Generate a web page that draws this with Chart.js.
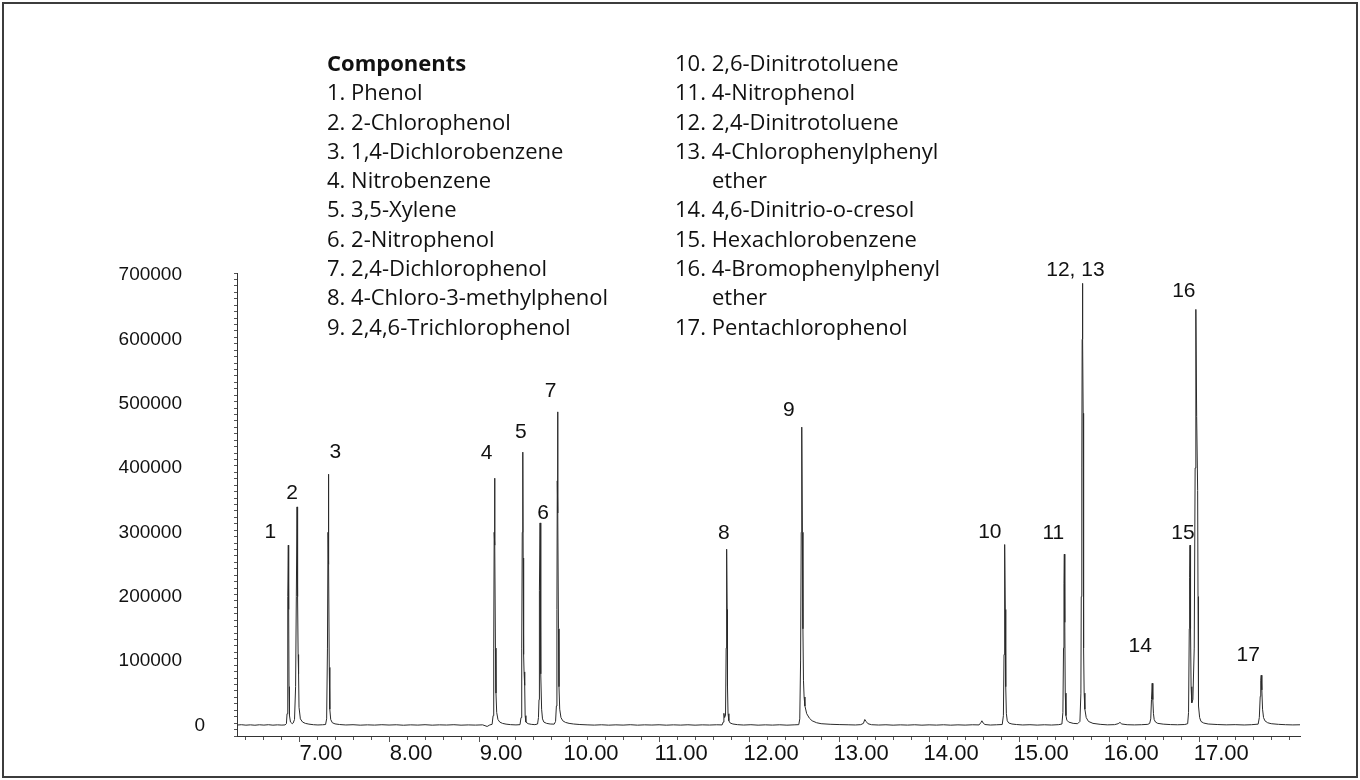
<!DOCTYPE html>
<html>
<head>
<meta charset="utf-8">
<title>GC chromatogram – phenols and semivolatiles</title>
<script src="https://cdn.jsdelivr.net/npm/chart.js@4.4.1/dist/chart.umd.min.js"></script>
<style>
  html, body { margin: 0; padding: 0; background: #fff; overflow: hidden; }
  #frame { position: absolute; left: 2px; top: 2px; width: 1356px; height: 776px;
           box-sizing: border-box; border: 2px solid #3c3c3c; }
  #chart { position: absolute; left: 0; top: 0; }
  .legend { position: absolute; font-family: 'Open Sans', 'Noto Sans', sans-serif;
            font-size: 22px; line-height: 29.3px; color: #111; white-space: nowrap; }
  .legend .head { font-weight: 700; }
  .legend .cont { padding-left: 37px; }
</style>
</head>
<body>
<div id="frame"></div>
<canvas id="chart" width="1360" height="780"></canvas>
<div class="legend" id="legendLeft" style="left:327px; top:48px;"></div>
<div class="legend" id="legendRight" style="left:675px; top:48px;"></div>

<script>
// ---- compound list ----
const componentsLeft = [
  '1. Phenol', '2. 2-Chlorophenol', '3. 1,4-Dichlorobenzene', '4. Nitrobenzene',
  '5. 3,5-Xylene', '6. 2-Nitrophenol', '7. 2,4-Dichlorophenol',
  '8. 4-Chloro-3-methylphenol', '9. 2,4,6-Trichlorophenol'
];
const componentsRight = [
  '10. 2,6-Dinitrotoluene', '11. 4-Nitrophenol', '12. 2,4-Dinitrotoluene',
  '13. 4-Chlorophenylphenyl|ether', '14. 4,6-Dinitrio-o-cresol', '15. Hexachlorobenzene',
  '16. 4-Bromophenylphenyl|ether', '17. Pentachlorophenol'
];

// ---- peak identification (retention time, min / apex abundance) ----
const peakIds     = ['1', '2', '3', '4', '5', '6', '7', '8', '9', '10', '11', '12, 13', '14', '15', '16', '17'];
const peakTimes   = [6.881, 6.978, 7.326, 9.172, 9.486, 9.678, 9.872, 11.752, 12.585, 14.841, 15.502, 15.703, 16.478, 16.898, 16.963, 17.689];
const peakHeights = [280000, 339500, 390300, 384100, 424600, 314600, 487200, 273700, 463500, 281000, 266000, 687000, 65300, 280000, 646500, 77800];

// ---- axis tick labels ----
const timeTickLabels = [7, 8, 9, 10, 11, 12, 13, 14, 15, 16, 17];
const abundanceTickLabels = [100000, 200000, 300000, 400000, 500000, 600000, 700000];

// ---- detector trace: [retention time (min), abundance] ----
const chromatogram = [
  [6.311, 400], [6.36, 900], [6.41, 200], [6.46, 700], [6.51, 100], [6.56, 800], [6.61, 300],
  [6.66, 900], [6.71, 200], [6.76, 700], [6.81, 300], [6.845, 600],
  [6.860, 2500], [6.867, 18000], [6.873, 87000], [6.877, 200000], [6.881, 280000], [6.885, 180000],
  [6.889, 60000], [6.894, 15000], [6.905, 5000], [6.925, 2500], [6.935, 3500],
  [6.950, 9000], [6.962, 60000], [6.970, 200000], [6.978, 339500], [6.984, 200000], [6.990, 110000],
  [6.995, 80000], [7.000, 28000], [7.015, 10000], [7.040, 5000], [7.070, 3000], [7.110, 1800],
  [7.16, 900], [7.21, 500], [7.26, 800], [7.295, 1200],
  [7.307, 10000], [7.316, 120000], [7.322, 300000], [7.326, 390300], [7.331, 250000], [7.336, 90000],
  [7.342, 25000], [7.352, 9000], [7.370, 4000], [7.400, 2200], [7.45, 1200],
  [7.52, 500], [7.60, 900], [7.68, 200], [7.76, 700], [7.84, 300], [7.92, 900], [8.00, 400],
  [8.08, 800], [8.16, 100], [8.24, 700], [8.32, 300], [8.40, 900], [8.48, 200], [8.56, 700],
  [8.64, 400], [8.72, 900], [8.80, 200], [8.88, 600], [8.96, 300], [9.04, 700], [9.09, -1800],
  [9.12, 600], [9.145, 1500],
  [9.156, 15000], [9.163, 120000], [9.168, 300000], [9.172, 384100], [9.177, 280000], [9.182, 120000],
  [9.188, 50000], [9.196, 20000], [9.210, 9000], [9.230, 5000], [9.260, 3000], [9.300, 1800],
  [9.350, 1000], [9.41, 600], [9.455, 1000],
  [9.466, 12000], [9.474, 120000], [9.480, 300000], [9.486, 424600], [9.490, 260000], [9.495, 110000],
  [9.500, 83000], [9.507, 62000], [9.512, 15000], [9.520, 5000], [9.545, 2500], [9.58, 1500],
  [9.62, 1000], [9.650, 2000],
  [9.660, 12000], [9.666, 40000], [9.668, 104000], [9.673, 210000], [9.678, 314600], [9.683, 200000],
  [9.688, 80000], [9.695, 25000], [9.705, 10000], [9.720, 5000], [9.750, 3000], [9.790, 2000],
  [9.835, 1800],
  [9.850, 6000], [9.859, 30000], [9.865, 180000], [9.869, 380000], [9.872, 487200], [9.877, 330000],
  [9.882, 150000], [9.888, 60000], [9.896, 25000], [9.910, 12000], [9.930, 7000], [9.960, 4500],
  [10.000, 3000], [10.05, 2000], [10.12, 1200], [10.20, 700],
  [10.28, 300], [10.36, 800], [10.44, 200], [10.52, 700], [10.60, 300], [10.68, 900], [10.76, 200],
  [10.84, 700], [10.92, 400], [11.00, 800], [11.08, 200], [11.16, 700], [11.24, 300], [11.32, 800],
  [11.40, 200], [11.48, 700], [11.56, 400], [11.64, 800], [11.70, 600],
  [11.712, 5000], [11.720, 18600], [11.728, 12000], [11.738, 16000], [11.745, 120000], [11.749, 220000],
  [11.752, 273700], [11.756, 180000], [11.760, 60000], [11.766, 18000], [11.775, 7000], [11.790, 3500],
  [11.820, 2000], [11.87, 1000],
  [11.94, 400], [12.02, 900], [12.10, 200], [12.18, 700], [12.26, 300], [12.34, 800], [12.42, 200],
  [12.50, 700], [12.552, 1000],
  [12.563, 10000], [12.572, 100000], [12.579, 300000], [12.585, 463500], [12.592, 300000], [12.598, 150000],
  [12.604, 70000], [12.611, 44000], [12.620, 30000], [12.640, 18000], [12.670, 11000], [12.700, 7000],
  [12.750, 4000], [12.800, 2500], [12.90, 1600], [13.00, 1100], [13.10, 800], [13.18, 500], [13.24, 1000],
  [13.270, 3000], [13.285, 9000], [13.300, 6000], [13.320, 2500], [13.36, 900],
  [13.44, 400], [13.52, 800], [13.60, 200], [13.68, 700], [13.76, 300], [13.84, 800], [13.92, 200],
  [14.00, 700], [14.08, 300], [14.16, 800], [14.24, 200], [14.32, 700], [14.40, 300], [14.48, 800],
  [14.555, 600],
  [14.574, 4000], [14.586, 7000], [14.600, 3500], [14.620, 1200],
  [14.68, 400], [14.75, 800], [14.812, 1200],
  [14.825, 15000], [14.832, 110000], [14.837, 220000], [14.841, 281000], [14.846, 180000], [14.851, 60000],
  [14.858, 18000], [14.868, 7000], [14.885, 3500], [14.920, 2000], [14.97, 1200],
  [15.04, 500], [15.12, 900], [15.20, 300], [15.28, 800], [15.36, 400], [15.44, 1000], [15.475, 2000],
  [15.486, 20000], [15.493, 120000], [15.498, 220000], [15.502, 266000], [15.507, 160000], [15.512, 50000],
  [15.520, 15000], [15.530, 8000], [15.550, 5000], [15.600, 3000], [15.650, 2500], [15.675, 6000],
  [15.686, 50000], [15.690, 200000], [15.696, 400000], [15.700, 600000], [15.703, 687000], [15.707, 600000],
  [15.711, 485000], [15.714, 380000], [15.716, 241000], [15.718, 120000], [15.722, 50000], [15.730, 25000],
  [15.745, 12000], [15.770, 6000], [15.820, 3000], [15.900, 1500],
  [15.98, 700], [16.06, 1000], [16.10, 2500], [16.12, 4500], [16.14, 2000], [16.20, 900], [16.28, 600],
  [16.36, 900], [16.43, 1500],
  [16.450, 3000], [16.462, 10000], [16.470, 40000], [16.478, 65300], [16.485, 40000], [16.492, 18000],
  [16.500, 9000], [16.515, 5000], [16.540, 3000], [16.600, 1800], [16.68, 1100], [16.76, 800],
  [16.84, 1200], [16.872, 2500],
  [16.882, 20000], [16.890, 150000], [16.894, 230000], [16.898, 280000], [16.904, 150000], [16.910, 60000],
  [16.918, 35000], [16.930, 40000], [16.945, 120000], [16.955, 400000], [16.963, 646500], [16.972, 480000],
  [16.983, 365000], [16.987, 200000], [16.990, 80000], [16.995, 30000], [17.005, 12000], [17.020, 6000],
  [17.050, 3500], [17.100, 2000], [17.20, 1200], [17.30, 700], [17.40, 1000], [17.50, 500], [17.58, 900],
  [17.655, 1800],
  [17.668, 12000], [17.678, 45000], [17.684, 70000], [17.689, 77800], [17.696, 55000], [17.704, 25000],
  [17.715, 12000], [17.730, 7000], [17.760, 4000], [17.800, 2500], [17.88, 1500], [17.96, 900],
  [18.04, 600], [18.12, 800]
];

// ---- axis ranges ----
const timeRange = [6.311, 18.12];
const abundanceRange = [-16640, 703100];

// ---- layout: peak-number label offsets from each apex, in px ----
const peakLabelOffsets = [
  [-18, -13], [-5, -14], [7, -22], [-8, -25], [-2, -20], [3, -10], [-7, -21], [-3, -16],
  [-13, -17], [-15, -12], [-11, -21], [-7, -13], [-12, -37], [-7, -12], [-12, -18], [-13, -20]
];

const AXIS_FONT = '"Liberation Sans", Arial, Helvetica, sans-serif';
const MINOR_TICK = 3;   // px
const MAJOR_TICK = 6;   // px

// ---- component legend (HTML text) ----
function buildLegend(el, items, heading) {
  let html = heading ? '<div class="head">' + heading + '</div>' : '';
  items.forEach(item => {
    const [first, rest] = item.split('|');
    html += '<div>' + first + '</div>';
    if (rest) html += '<div class="cont">' + rest + '</div>';
  });
  el.innerHTML = html;
}
buildLegend(document.getElementById('legendLeft'), componentsLeft, 'Components');
buildLegend(document.getElementById('legendRight'), componentsRight, '');

// ---- peak numbers, abundance labels and the longer major tick marks ----
const annotationPlugin = {
  id: 'peakLabels',
  afterDatasetsDraw(chart) {
    const { ctx, chartArea, scales: { x, y } } = chart;
    ctx.save();

    // longer ticks: every 50000 on the abundance axis, every minute on the time axis
    ctx.strokeStyle = '#555';
    ctx.lineWidth = 1;
    ctx.beginPath();
    y.ticks.forEach(t => {
      if (Math.round(t.value) % 50000 === 0) {
        const py = Math.round(y.getPixelForValue(t.value)) + 0.5;
        ctx.moveTo(chartArea.left - MAJOR_TICK, py);
        ctx.lineTo(chartArea.left, py);
      }
    });
    timeTickLabels.forEach(t => {
      const px = Math.round(x.getPixelForValue(t)) + 0.5;
      ctx.moveTo(px, chartArea.bottom);
      ctx.lineTo(px, chartArea.bottom + MAJOR_TICK);
    });
    ctx.stroke();

    ctx.fillStyle = '#111';
    ctx.font = '21px ' + AXIS_FONT;
    ctx.textAlign = 'center';
    ctx.textBaseline = 'middle';
    peakIds.forEach((id, i) => {
      const [dx, dy] = peakLabelOffsets[i];
      ctx.fillText(id, x.getPixelForValue(peakTimes[i]) + dx, y.getPixelForValue(peakHeights[i]) + dy);
    });

    ctx.font = '19px ' + AXIS_FONT;
    ctx.textAlign = 'right';
    abundanceTickLabels.forEach(v => ctx.fillText(String(v), 182, y.getPixelForValue(v)));
    ctx.fillText('0', 205, y.getPixelForValue(0));
    ctx.restore();
  }
};

const isLabelledTime = v => timeTickLabels.some(t => Math.abs(v - t) < 1e-6);

new Chart(document.getElementById('chart'), {
  type: 'line',
  data: {
    datasets: [{
      data: chromatogram.map(([t, a]) => ({ x: t, y: a })),
      borderColor: '#2a2a2a',
      borderWidth: 1,
      pointRadius: 0,
      tension: 0,
      fill: false
    }]
  },
  options: {
    responsive: false,
    animation: false,
    events: [],
    layout: { padding: { top: 273, right: 60, left: 0, bottom: 0 } },
    plugins: { legend: { display: false }, tooltip: { enabled: false } },
    scales: {
      x: {
        type: 'linear',
        min: timeRange[0],
        max: timeRange[1],
        border: { display: true, color: '#333', width: 1 },
        grid: { drawOnChartArea: false, drawTicks: true, tickLength: 4, tickColor: '#555' },
        ticks: {
          stepSize: 0.2,
          includeBounds: false,
          autoSkip: false,
          maxRotation: 0,
          labelOffset: 22,
          padding: 1,
          color: '#111',
          font: { family: AXIS_FONT, size: 22 },
          callback: v => isLabelledTime(v) ? Number(v).toFixed(2) : ''
        },
        afterFit: s => { s.height = 44; }
      },
      y: {
        min: abundanceRange[0],
        max: abundanceRange[1],
        border: { display: true, color: '#333', width: 1 },
        grid: { drawOnChartArea: false, drawTicks: true, tickLength: MINOR_TICK, tickColor: '#555' },
        ticks: {
          stepSize: 10000,
          autoSkip: false,
          callback: () => ''
        },
        afterFit: s => { s.width = 237; }
      }
    }
  },
  plugins: [annotationPlugin]
});
</script>
</body>
</html>
